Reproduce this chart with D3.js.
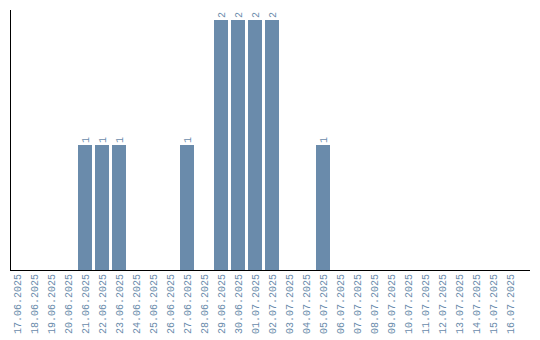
<!DOCTYPE html>
<html><head><meta charset="utf-8">
<script src="https://cdn.jsdelivr.net/npm/d3@7"></script>
<style>body{margin:0;background:#fff}svg{display:block}</style>
</head><body>
<svg id="c" width="540" height="340"></svg>
<script>
const categories = ["17.06.2025","18.06.2025","19.06.2025","20.06.2025","21.06.2025","22.06.2025","23.06.2025","24.06.2025","25.06.2025","26.06.2025","27.06.2025","28.06.2025","29.06.2025","30.06.2025","01.07.2025","02.07.2025","03.07.2025","04.07.2025","05.07.2025","06.07.2025","07.07.2025","08.07.2025","09.07.2025","10.07.2025","11.07.2025","12.07.2025","13.07.2025","14.07.2025","15.07.2025","16.07.2025"];
const values = [0,0,0,0,1,1,1,0,0,0,1,0,2,2,2,2,0,0,1,0,0,0,0,0,0,0,0,0,0,0];

const svg = d3.select("#c");
const color = "#6a8bab";
const font = "'Liberation Mono', 'Courier New', monospace";
const x = d3.scaleBand().domain(categories).range([10, 517]).paddingInner(3/17).paddingOuter(0);
const y = d3.scaleLinear().domain([0, 2.08]).range([270, 10]);

const data = categories.map((c,i)=>({c, v: values[i]}));

svg.append("g").selectAll("rect").data(data.filter(d=>d.v>0)).join("rect")
  .attr("x", d=>x(d.c)).attr("y", d=>y(d.v))
  .attr("width", x.bandwidth()).attr("height", d=>y(0)-y(d.v))
  .attr("fill", color);

svg.append("g").selectAll("text").data(data.filter(d=>d.v>0)).join("text")
  .attr("transform", d=>`translate(${x(d.c)+x.bandwidth()/2+3.5},${y(d.v)-2}) rotate(-90)`)
  .attr("text-anchor","start")
  .attr("font-family",font).attr("font-size",10)
  .attr("fill", color).text(d=>d.v);

// x axis
const xa = svg.append("g").attr("transform","translate(0,270)")
  .call(d3.axisBottom(x).tickSize(0).tickPadding(3));
xa.select(".domain").remove();
xa.append("line").attr("x1",10).attr("x2",530).attr("y1",0.5).attr("y2",0.5).attr("stroke","#000");
xa.selectAll("text")
  .attr("font-family",font).attr("font-size",10)
  .attr("fill", color)
  .attr("text-anchor","end")
  .attr("transform","rotate(-90)")
  .attr("x",-4).attr("y",0).attr("dy","0.35em");

// y axis line
svg.append("line").attr("x1",10.5).attr("x2",10.5).attr("y1",y.range()[1]).attr("y2",270).attr("stroke","#000");
</script>
</body></html>
